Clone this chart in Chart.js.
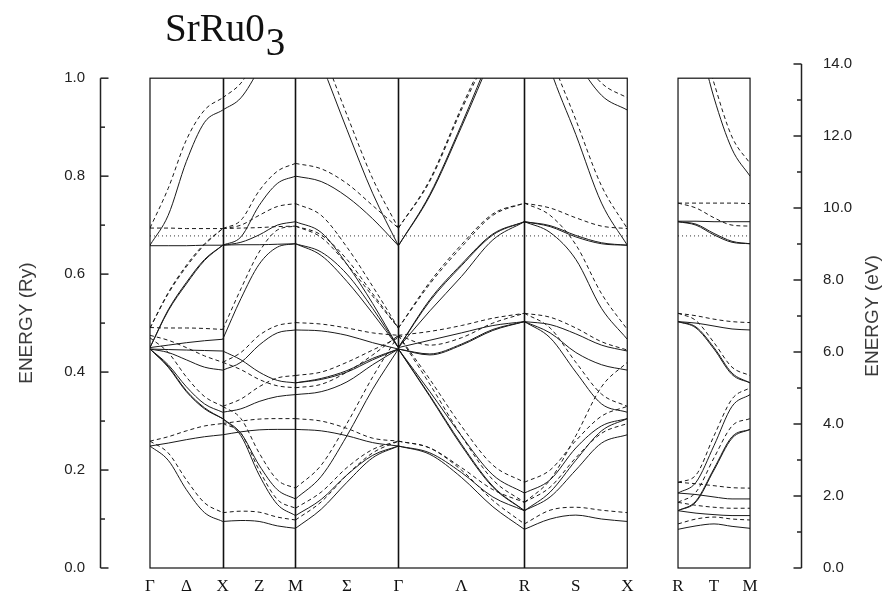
<!DOCTYPE html>
<html>
<head>
<meta charset="utf-8">
<script src="https://cdn.jsdelivr.net/npm/chart.js@4.4.0/dist/chart.umd.min.js"></script>
<style>
  body { margin: 0; background: #fff; }
</style>
</head>
<body>
<canvas id="bands" width="889" height="599"></canvas>
<script>
// k-path (units of 2pi/a): G X M G R X, and the separate R - M panel
var kMain = [0, 0.5, 1.0, 1.7071, 2.5731, 3.2802];
var kSide = [3.629, 4.124];
var kLeft = -0.3436, kRight = 4.4811;   // x range spanned by the two energy axes

var pathLabels = ["Γ", "Δ", "X", "Z", "M", "Σ", "Γ", "Λ", "R", "S", "X"];
var sideLabels = ["R", "T", "M"];

var fermiRy = 0.678;
var evPerRy = 13.6057;
var ryTicks = [0, 0.2, 0.4, 0.6, 0.8, 1.0];
var ryMinor = [0.1, 0.3, 0.5, 0.7, 0.9];
var evTicks = [0, 2, 4, 6, 8, 10, 12, 14];
var evMinor = [1, 3, 5, 7, 9, 11, 13];

// energies (Ry) at 5 equally spaced k along each segment, solid = one spin, dashed = other
var gxSolid = [
  [0.659, 0.72, 0.83, 0.91, 0.935],
  [0.658, 0.658, 0.658, 0.659, 0.659],
  [0.45, 0.525, 0.58, 0.628, 0.659],
  [0.45, 0.527, 0.583, 0.63, 0.659],
  [0.45, 0.455, 0.46, 0.464, 0.467],
  [0.447, 0.446, 0.445, 0.444, 0.443],
  [0.447, 0.44, 0.425, 0.41, 0.404],
  [0.447, 0.415, 0.37, 0.335, 0.318],
  [0.447, 0.41, 0.36, 0.325, 0.305],
  [0.447, 0.412, 0.362, 0.327, 0.305],
  [0.249, 0.255, 0.262, 0.268, 0.272],
  [0.249, 0.22, 0.16, 0.113, 0.095]
];
var gxDashed = [
  [0.694, 0.775, 0.874, 0.935, 0.96],
  [0.694, 0.694, 0.693, 0.693, 0.693],
  [0.49, 0.56, 0.615, 0.66, 0.693],
  [0.49, 0.562, 0.618, 0.662, 0.693],
  [0.491, 0.49, 0.49, 0.489, 0.487],
  [0.475, 0.465, 0.45, 0.433, 0.42],
  [0.47, 0.44, 0.39, 0.35, 0.33],
  [0.259, 0.268, 0.28, 0.29, 0.295],
  [0.259, 0.235, 0.18, 0.133, 0.113]
];
var xmSolid = [
  [0.935, 0.96, 1.02, 1.1, 1.15],
  [0.659, 0.676, 0.74, 0.785, 0.80],
  [0.659, 0.665, 0.68, 0.70, 0.707],
  [0.659, 0.66, 0.66, 0.661, 0.662],
  [0.467, 0.55, 0.62, 0.655, 0.662],
  [0.443, 0.425, 0.4, 0.383, 0.378],
  [0.404, 0.42, 0.455, 0.48, 0.486],
  [0.318, 0.325, 0.34, 0.35, 0.354],
  [0.305, 0.275, 0.21, 0.16, 0.141],
  [0.305, 0.27, 0.19, 0.13, 0.107],
  [0.272, 0.278, 0.282, 0.283, 0.283],
  [0.095, 0.097, 0.095, 0.086, 0.081]
];
var xmDashed = [
  [0.96, 0.99, 1.05, 1.12, 1.17],
  [0.693, 0.71, 0.77, 0.81, 0.826],
  [0.693, 0.70, 0.72, 0.738, 0.744],
  [0.693, 0.694, 0.695, 0.697, 0.698],
  [0.487, 0.57, 0.645, 0.69, 0.698],
  [0.42, 0.44, 0.475, 0.495, 0.501],
  [0.42, 0.405, 0.385, 0.372, 0.368],
  [0.33, 0.345, 0.37, 0.388, 0.393],
  [0.295, 0.3, 0.304, 0.305, 0.305],
  [0.33, 0.305, 0.235, 0.18, 0.163],
  [0.295, 0.275, 0.2, 0.14, 0.122],
  [0.113, 0.116, 0.114, 0.104, 0.098]
];
var mgSolid = [
  [1.15, 1.03, 0.895, 0.765, 0.658],
  [0.80, 0.789, 0.758, 0.713, 0.658],
  [0.707, 0.685, 0.62, 0.54, 0.45],
  [0.662, 0.638, 0.585, 0.52, 0.45],
  [0.662, 0.645, 0.6, 0.53, 0.45],
  [0.486, 0.484, 0.475, 0.46, 0.447],
  [0.378, 0.385, 0.4, 0.425, 0.447],
  [0.378, 0.387, 0.403, 0.428, 0.447],
  [0.354, 0.36, 0.38, 0.415, 0.447],
  [0.283, 0.28, 0.27, 0.256, 0.249],
  [0.141, 0.187, 0.27, 0.365, 0.447],
  [0.107, 0.14, 0.19, 0.23, 0.249],
  [0.081, 0.12, 0.175, 0.225, 0.249]
];
var mgDashed = [
  [1.17, 1.06, 0.925, 0.795, 0.694],
  [0.826, 0.815, 0.785, 0.74, 0.694],
  [0.744, 0.72, 0.655, 0.575, 0.49],
  [0.698, 0.675, 0.62, 0.555, 0.49],
  [0.698, 0.68, 0.63, 0.56, 0.49],
  [0.501, 0.498, 0.49, 0.48, 0.475],
  [0.393, 0.4, 0.42, 0.445, 0.47],
  [0.368, 0.375, 0.4, 0.435, 0.475],
  [0.305, 0.3, 0.285, 0.265, 0.259],
  [0.163, 0.21, 0.295, 0.39, 0.475],
  [0.122, 0.155, 0.205, 0.242, 0.259],
  [0.098, 0.135, 0.19, 0.235, 0.259]
];
var grSolid = [
  [0.658, 0.76, 0.90, 1.05, 1.2],
  [0.658, 0.763, 0.905, 1.06, 1.22],
  [0.45, 0.545, 0.617, 0.68, 0.707],
  [0.45, 0.548, 0.62, 0.682, 0.707],
  [0.45, 0.525, 0.595, 0.67, 0.707],
  [0.447, 0.435, 0.455, 0.485, 0.503],
  [0.447, 0.437, 0.457, 0.487, 0.503],
  [0.45, 0.465, 0.48, 0.495, 0.503],
  [0.447, 0.35, 0.25, 0.165, 0.117],
  [0.447, 0.352, 0.253, 0.167, 0.117],
  [0.447, 0.36, 0.27, 0.19, 0.153],
  [0.249, 0.235, 0.195, 0.145, 0.117],
  [0.249, 0.232, 0.185, 0.125, 0.079]
];
var grDashed = [
  [0.694, 0.79, 0.935, 1.07, 1.22],
  [0.694, 0.793, 0.94, 1.08, 1.24],
  [0.49, 0.58, 0.655, 0.72, 0.745],
  [0.49, 0.584, 0.66, 0.723, 0.745],
  [0.475, 0.455, 0.47, 0.5, 0.52],
  [0.475, 0.483, 0.495, 0.51, 0.52],
  [0.475, 0.385, 0.29, 0.21, 0.175],
  [0.475, 0.375, 0.27, 0.18, 0.134],
  [0.259, 0.245, 0.205, 0.16, 0.134],
  [0.259, 0.245, 0.2, 0.138, 0.09]
];
var rxSolid = [
  [1.2, 1.02, 0.885, 0.745, 0.659],
  [1.22, 1.15, 1.04, 0.965, 0.935],
  [0.707, 0.697, 0.676, 0.662, 0.659],
  [0.707, 0.699, 0.679, 0.664, 0.659],
  [0.707, 0.685, 0.63, 0.53, 0.467],
  [0.503, 0.497, 0.478, 0.455, 0.443],
  [0.503, 0.48, 0.44, 0.415, 0.404],
  [0.503, 0.47, 0.4, 0.335, 0.318],
  [0.117, 0.155, 0.22, 0.28, 0.305],
  [0.117, 0.145, 0.2, 0.255, 0.272],
  [0.153, 0.18, 0.245, 0.29, 0.305],
  [0.079, 0.1, 0.108, 0.1, 0.095]
];
var rxDashed = [
  [1.22, 1.05, 0.915, 0.78, 0.693],
  [1.24, 1.17, 1.06, 0.99, 0.96],
  [0.745, 0.735, 0.715, 0.698, 0.693],
  [0.745, 0.72, 0.66, 0.56, 0.487],
  [0.52, 0.512, 0.49, 0.462, 0.445],
  [0.52, 0.49, 0.42, 0.355, 0.33],
  [0.175, 0.2, 0.26, 0.31, 0.33],
  [0.134, 0.165, 0.225, 0.275, 0.295],
  [0.134, 0.18, 0.27, 0.37, 0.42],
  [0.09, 0.118, 0.124, 0.118, 0.113]
];
var rtmSolid = [
  [1.22, 1.1, 0.96, 0.855, 0.80],
  [0.708, 0.708, 0.707, 0.707, 0.707],
  [0.707, 0.70, 0.68, 0.665, 0.662],
  [0.707, 0.702, 0.683, 0.667, 0.662],
  [0.503, 0.5, 0.494, 0.488, 0.486],
  [0.503, 0.49, 0.447, 0.395, 0.378],
  [0.503, 0.492, 0.45, 0.398, 0.378],
  [0.153, 0.175, 0.25, 0.33, 0.354],
  [0.117, 0.135, 0.2, 0.265, 0.283],
  [0.117, 0.137, 0.203, 0.268, 0.283],
  [0.153, 0.15, 0.145, 0.141, 0.141],
  [0.117, 0.112, 0.109, 0.107, 0.107],
  [0.079, 0.086, 0.09, 0.085, 0.081]
];
var rtmDashed = [
  [1.24, 1.12, 0.99, 0.88, 0.826],
  [0.745, 0.745, 0.745, 0.745, 0.744],
  [0.745, 0.735, 0.715, 0.70, 0.698],
  [0.52, 0.515, 0.508, 0.503, 0.501],
  [0.52, 0.505, 0.46, 0.41, 0.393],
  [0.175, 0.19, 0.27, 0.345, 0.368],
  [0.134, 0.155, 0.225, 0.29, 0.305],
  [0.175, 0.172, 0.168, 0.164, 0.163],
  [0.134, 0.128, 0.124, 0.122, 0.122],
  [0.09, 0.1, 0.104, 0.1, 0.098]
];

var segments = [
  [kMain[0], kMain[1], gxSolid, gxDashed],
  [kMain[1], kMain[2], xmSolid, xmDashed],
  [kMain[2], kMain[3], mgSolid, mgDashed],
  [kMain[3], kMain[4], grSolid, grDashed],
  [kMain[4], kMain[5], rxSolid, rxDashed],
  [kSide[0], kSide[1], rtmSolid, rtmDashed]
];

function makeCurve(vals, k0, k1, dashed) {
  return {
    data: vals.map(function (e, i) { return { x: k0 + (k1 - k0) * i / (vals.length - 1), y: e }; }),
    borderColor: "#1a1a1a",
    borderWidth: 1,
    borderDash: dashed ? [4, 3] : [],
    pointRadius: 0,
    cubicInterpolationMode: "monotone",
    fill: false
  };
}

var datasets = [];
segments.forEach(function (seg) {
  seg[2].forEach(function (b) { datasets.push(makeCurve(b, seg[0], seg[1], false)); });
  seg[3].forEach(function (b) { datasets.push(makeCurve(b, seg[0], seg[1], true)); });
});
// Fermi level
[[kMain[0], kMain[5]], [kSide[0], kSide[1]]].forEach(function (p) {
  datasets.push({
    data: [{ x: p[0], y: fermiRy }, { x: p[1], y: fermiRy }],
    borderColor: "#333", borderWidth: 1, borderDash: [1, 3], pointRadius: 0
  });
});

// label positions: symmetry points and segment midpoints
var labelPos = [];
for (var i = 0; i < kMain.length; i++) {
  labelPos.push(kMain[i]);
  if (i < kMain.length - 1) labelPos.push((kMain[i] + kMain[i + 1]) / 2);
}
labelPos.push(kSide[0], (kSide[0] + kSide[1]) / 2, kSide[1]);
var allLabels = pathLabels.concat(sideLabels);

var framePlugin = {
  id: "frames",
  beforeDatasetsDraw: function (chart) {
    var x = chart.scales.x, y = chart.scales.y, ctx = chart.ctx;
    var top = y.getPixelForValue(1.0), bottom = y.getPixelForValue(0);
    ctx.save();
    ctx.beginPath();
    var a = x.getPixelForValue(kMain[0]), b = x.getPixelForValue(kMain[5]);
    ctx.rect(a, top, b - a, bottom - top);
    a = x.getPixelForValue(kSide[0]); b = x.getPixelForValue(kSide[1]);
    ctx.rect(a, top, b - a, bottom - top);
    ctx.clip();
  },
  afterDatasetsDraw: function (chart) {
    var ctx = chart.ctx;
    ctx.restore();
    var x = chart.scales.x, y = chart.scales.y, y2 = chart.scales.y2;
    var top = y.getPixelForValue(1.0), bottom = y.getPixelForValue(0);

    ctx.save();
    ctx.strokeStyle = "#111";
    // panel frames
    ctx.lineWidth = 1.2;
    [[kMain[0], kMain[5]], [kSide[0], kSide[1]]].forEach(function (p) {
      var a = x.getPixelForValue(p[0]), b = x.getPixelForValue(p[1]);
      ctx.strokeRect(a, top, b - a, bottom - top);
    });
    // symmetry lines
    ctx.lineWidth = 1.6;
    for (var i = 1; i < kMain.length - 1; i++) {
      var px = Math.round(x.getPixelForValue(kMain[i])) + 0.5;
      ctx.beginPath(); ctx.moveTo(px, top); ctx.lineTo(px, bottom); ctx.stroke();
    }
    // left axis (Ry)
    ctx.strokeStyle = "#222";
    ctx.lineWidth = 1.5;
    var lx = chart.chartArea.left + 0.5;
    ctx.beginPath(); ctx.moveTo(lx, bottom); ctx.lineTo(lx, top); ctx.stroke();
    ryTicks.forEach(function (v) {
      var py = y.getPixelForValue(v);
      ctx.beginPath(); ctx.moveTo(lx, py); ctx.lineTo(lx + 8, py); ctx.stroke();
    });
    ryMinor.forEach(function (v) {
      var py = y.getPixelForValue(v);
      ctx.beginPath(); ctx.moveTo(lx, py); ctx.lineTo(lx + 4.5, py); ctx.stroke();
    });
    // right axis (eV)
    var rx = chart.chartArea.right - 0.5;
    ctx.beginPath(); ctx.moveTo(rx, y2.getPixelForValue(0)); ctx.lineTo(rx, y2.getPixelForValue(14)); ctx.stroke();
    evTicks.forEach(function (v) {
      var py = y2.getPixelForValue(v);
      ctx.beginPath(); ctx.moveTo(rx, py); ctx.lineTo(rx - 8, py); ctx.stroke();
    });
    evMinor.forEach(function (v) {
      var py = y2.getPixelForValue(v);
      ctx.beginPath(); ctx.moveTo(rx, py); ctx.lineTo(rx - 4.5, py); ctx.stroke();
    });

    // axis titles
    ctx.fillStyle = "#3a3a3a";
    ctx.font = '19px "Liberation Sans", sans-serif';
    ctx.textAlign = "center";
    ctx.textBaseline = "middle";
    ctx.save();
    ctx.translate(y.left + 27, y.getPixelForValue(0.5));
    ctx.rotate(-Math.PI / 2);
    ctx.fillText("ENERGY (Ry)", 0, 0);
    ctx.restore();
    ctx.save();
    ctx.translate(y2.right - 16, y2.getPixelForValue(7));
    ctx.rotate(-Math.PI / 2);
    ctx.fillText("ENERGY (eV)", 0, 0);
    ctx.restore();

    // title with subscript
    ctx.fillStyle = "#111";
    ctx.font = '39px "Liberation Serif", serif';
    ctx.textAlign = "left";
    ctx.textBaseline = "alphabetic";
    ctx.fillText("SrRu0", 165, 41);
    var w = ctx.measureText("SrRu0").width;
    ctx.fillText("3", 165 + w + 1, 55);
    ctx.restore();
  }
};

new Chart(document.getElementById("bands"), {
  type: "line",
  data: { datasets: datasets },
  plugins: [framePlugin],
  options: {
    responsive: false,
    animation: false,
    layout: { padding: { top: 64, left: 0, right: 0, bottom: 0 } },
    plugins: { legend: { display: false }, tooltip: { enabled: false } },
    scales: {
      x: {
        type: "linear", min: kLeft, max: kRight,
        grid: { display: false, drawTicks: false }, border: { display: false },
        afterBuildTicks: function (s) { s.ticks = labelPos.map(function (v) { return { value: v }; }); },
        afterFit: function (s) { s.height = 31; },
        ticks: {
          autoSkip: false, maxRotation: 0, padding: 8, color: "#111",
          font: { family: '"Liberation Serif", serif', size: 17 },
          callback: function (v, i) { return allLabels[i]; }
        }
      },
      y: {
        type: "linear", position: "left", min: 0, max: 14 / evPerRy,
        grid: { display: false, drawTicks: false }, border: { display: false },
        afterBuildTicks: function (s) { s.ticks = ryTicks.map(function (v) { return { value: v }; }); },
        afterFit: function (s) { s.width = 100; },
        ticks: {
          padding: 15, color: "#222",
          font: { family: '"Liberation Sans", sans-serif', size: 15 },
          callback: function (v) { return v.toFixed(1); }
        }
      },
      y2: {
        type: "linear", position: "right", min: 0, max: 14,
        grid: { display: false, drawTicks: false }, border: { display: false },
        afterBuildTicks: function (s) { s.ticks = evTicks.map(function (v) { return { value: v }; }); },
        afterFit: function (s) { s.width = 87; },
        ticks: {
          padding: 21, color: "#222",
          font: { family: '"Liberation Sans", sans-serif', size: 15 },
          callback: function (v) { return v.toFixed(1); }
        }
      }
    }
  }
});
</script>
</body>
</html>
